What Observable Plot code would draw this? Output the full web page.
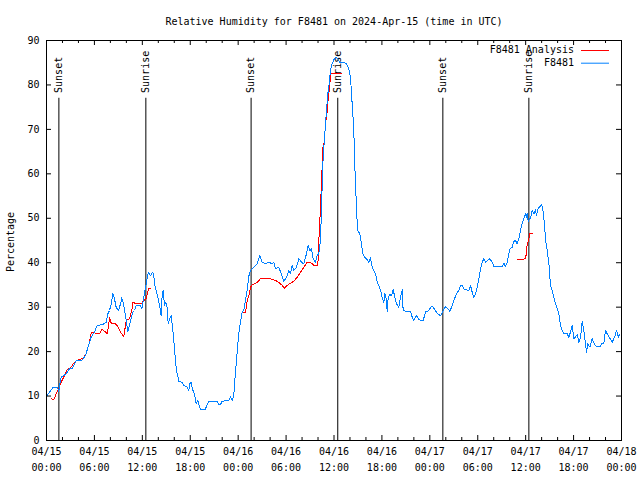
<!DOCTYPE html>
<html>
<head>
<meta charset="utf-8">
<script src="https://cdn.jsdelivr.net/npm/d3@7"></script>
<script src="https://cdn.jsdelivr.net/npm/@observablehq/plot@0.6"></script>
<style>
  html, body { margin: 0; padding: 0; background: #fff; }
  #chart svg { display: block; }
</style>
</head>
<body>
<div id="chart"></div>
<script>
// ---- Data (hours since 2024-04-15 00:00 UTC, relative humidity %) ----
const titleText = "Relative Humidity for F8481 on 2024-Apr-15 (time in UTC)";
const yLabel = "Percentage";

const blueName = "F8481";
const redName = "F8481 Analysis";

const blueSeries = [
[0.08,10.1],[0.38,10.9],[0.79,11.85],[1.42,11.85],[1.54,10.9],[1.71,13.1],[1.84,14.25],[2.13,14.6],[2.46,15.0],[2.88,16.1],
[3.17,16.1],[3.51,17.25],[3.72,18.0],[4.26,18.0],[4.55,18.2],[4.97,19.5],[5.18,21.0],[5.59,23.25],[6.01,24.4],[6.35,25.9],
[7.05,26.1],[7.47,26.6],[7.68,28.5],[7.89,29.25],[8.1,30.75],[8.31,33.0],[8.51,31.9],[8.72,30.0],[9.02,29.25],[9.27,30.75],
[9.43,32.1],[9.68,30.4],[9.98,27.0],[10.18,24.4],[10.39,25.9],[10.6,27.4],[10.81,28.9],[11.02,29.25],[11.23,30.4],[11.77,30.4],
[11.94,29.6],[12.19,32.25],[12.4,34.5],[12.6,36.4],[12.77,37.9],[13.02,37.1],[13.31,37.9],[13.44,37.1],[13.52,35.3],[13.77,33.4],
[13.94,32.3],[14.07,31.1],[14.27,29.2],[14.36,28.1],[14.48,32.6],[14.61,33.8],[14.78,30.4],[14.94,31.1],[15.11,30.0],[15.24,26.3],
[15.44,27.4],[15.61,28.1],[15.78,25.5],[15.94,22.5],[16.15,18.0],[16.28,15.75],[16.57,13.35],[16.99,13.1],[17.2,12.4],[17.61,12.0],
[17.82,11.25],[17.95,12.75],[18.11,13.1],[18.28,11.6],[18.57,10.1],[18.74,8.25],[18.95,9.0],[19.12,7.9],[19.28,6.9],[19.83,6.9],
[20.0,7.5],[20.33,8.85],[21.37,8.85],[21.58,8.1],[21.79,8.1],[22.0,8.85],[22.83,9.0],[23.04,9.9],[23.25,9.0],[23.45,10.1],
[23.58,13.5],[23.79,18.0],[23.96,21.75],[24.13,24.75],[24.29,26.6],[24.5,28.9],[24.71,29.4],[24.92,31.5],[25.13,33.8],[25.34,37.0],
[25.55,38.25],[25.97,39.0],[26.38,39.75],[26.71,41.6],[27.0,40.1],[27.42,39.75],[27.84,40.1],[28.26,39.75],[28.47,40.1],[28.67,38.6],
[29.09,39.0],[29.39,37.5],[29.72,35.85],[30.06,36.75],[30.35,38.25],[30.55,37.5],[30.76,39.4],[30.97,38.25],[31.3,39.0],[31.6,40.9],
[31.93,40.1],[32.22,39.75],[32.55,42.0],[32.77,43.9],[32.98,42.75],[33.18,43.1],[33.39,40.9],[33.68,40.1],[33.89,41.6],[34.1,42.0],
[34.31,45.0],[34.44,52.5],[34.6,62.25],[34.73,66.0],[34.94,71.25],[35.06,74.25],[35.23,78.0],[35.44,81.0],[35.56,83.5],[35.77,84.75],
[35.98,85.7],[36.19,86.25],[36.48,86.0],[36.73,85.1],[37.23,85.1],[37.56,84.75],[37.86,83.6],[38.07,81.75],[38.19,78.0],[38.36,73.5],
[38.48,69.75],[38.61,61.5],[38.73,56.25],[38.86,50.25],[38.99,47.25],[39.24,46.5],[39.44,44.25],[39.61,42.0],[39.82,41.25],[40.07,40.9],
[40.36,40.1],[40.57,41.1],[40.78,39.0],[40.99,38.25],[41.2,37.5],[41.41,35.6],[41.62,34.9],[41.83,33.75],[42.03,32.25],[42.24,31.1],
[42.37,33.0],[42.54,31.9],[42.66,29.1],[42.79,32.25],[43.0,32.8],[43.2,32.6],[43.41,33.9],[43.62,32.25],[43.83,30.75],[44.12,30.0],
[44.33,32.25],[44.54,33.9],[44.66,29.25],[44.96,29.1],[45.58,29.1],[45.79,27.75],[46.0,27.0],[46.33,28.1],[46.63,27.15],[47.17,27.0],
[47.46,28.9],[47.88,29.25],[48.17,30.15],[48.42,30.0],[48.71,29.1],[49.13,28.3],[49.34,28.1],[49.67,29.25],[49.96,30.1],[50.26,29.7],
[50.51,29.0],[50.8,30.4],[51.09,31.9],[51.34,33.0],[51.63,33.75],[51.84,34.9],[52.05,34.9],[52.26,34.1],[52.59,33.9],[52.88,33.75],
[53.09,34.9],[53.3,33.4],[53.51,32.25],[53.72,33.0],[53.93,34.5],[54.14,36.4],[54.35,38.6],[54.56,40.1],[54.76,40.9],[54.97,40.1],
[55.18,40.4],[55.52,40.9],[55.81,40.1],[56.02,39.15],[57.06,39.15],[57.27,39.9],[57.48,39.15],[57.69,40.1],[57.9,42.0],[58.02,43.1],
[58.32,43.5],[58.52,44.8],[58.73,45.0],[58.94,44.25],[59.15,45.4],[59.27,46.5],[59.44,48.0],[59.61,49.1],[59.77,49.9],[59.98,51.0],
[60.11,50.25],[60.19,51.1],[60.32,49.35],[60.53,49.9],[60.69,50.6],[60.82,51.75],[61.03,51.0],[61.23,51.9],[61.36,50.6],[61.53,52.1],
[61.78,52.65],[61.99,53.1],[62.15,51.9],[62.36,48.75],[62.49,45.0],[62.7,42.75],[62.91,39.75],[63.11,34.9],[63.32,33.75],[63.53,32.25],
[63.74,30.75],[63.95,29.6],[64.16,28.5],[64.36,25.9],[64.57,24.75],[64.78,24.15],[65.2,24.0],[65.41,23.25],[65.61,24.4],[65.82,25.9],
[66.03,22.9],[66.24,23.25],[66.45,23.85],[66.66,22.1],[66.87,23.25],[67.08,26.85],[67.29,24.75],[67.49,21.75],[67.62,19.9],[67.79,21.75],
[68.04,21.0],[68.33,22.9],[68.62,21.6],[68.87,21.2],[69.37,21.2],[69.58,21.9],[69.79,21.9],[70.0,24.75],[70.21,24.0],[70.42,23.4],
[70.83,22.1],[71.13,23.25],[71.38,24.75],[71.59,23.25],[71.8,24.0]
];

const redSegment1 = [
[0.67,9.37],[0.92,9.15],[1.21,10.5],[1.42,11.25],[1.63,12.1],[1.84,13.1],[2.25,14.6],[2.59,15.9],[3.01,16.35],[3.3,17.1],
[3.72,18.0],[4.55,18.5],[4.97,19.5],[5.38,22.1],[5.59,24.2],[6.01,24.2],[6.64,24.0],[6.93,25.1],[7.26,24.6],[7.6,24.0],
[7.8,26.25],[7.89,27.75],[8.1,26.4],[8.51,26.4],[8.93,25.7],[9.27,24.4],[9.68,23.4],[9.98,27.0],[10.39,27.4],[10.69,29.25],
[10.81,31.1],[11.23,30.75],[11.85,30.75],[12.19,31.5],[12.48,31.9],[12.77,34.1],[13.02,34.1]
];
const redSegment2 = [
[24.5,28.9],[24.92,28.9],[25.13,31.5],[25.34,32.6],[25.55,34.5],[25.76,35.0],[26.38,35.6],[26.8,36.4],[28.05,36.4],[28.67,36.0],
[29.09,35.6],[29.51,34.9],[29.8,34.3],[30.14,34.9],[30.55,35.4],[30.97,35.85],[31.39,36.75],[31.81,37.9],[32.22,39.0],[32.64,40.1],
[33.06,40.1],[33.48,39.4],[33.98,39.4],[34.1,45.0],[34.31,52.5],[34.44,58.5],[34.64,66.75],[34.81,67.1],[34.94,72.0],[35.06,72.4],
[35.23,76.1],[35.4,78.75],[35.6,82.5],[37.0,82.5]
];
const redSegment3 = [
[58.98,40.65],[60.02,40.9],[60.11,43.5],[60.36,45.0],[60.53,46.65],[60.9,46.65]
];

const sunTimes = [1.55, 12.44, 25.62, 36.47, 49.63, 60.4];
const sunLabels = ["Sunset", "Sunrise", "Sunset", "Sunrise", "Sunset", "Sunrise"];
const sunLineTop = 77;

const yTicks = [0, 10, 20, 30, 40, 50, 60, 70, 80, 90];
const xMajorTicks = [0, 6, 12, 18, 24, 30, 36, 42, 48, 54, 60, 66, 72];
const xMinorTicks = [2, 4, 8, 10, 14, 16, 20, 22, 26, 28, 32, 34, 38, 40, 44, 46, 50, 52, 56, 58, 62, 64, 68, 70];
const xDateLabels = ["04/15","04/15","04/15","04/15","04/16","04/16","04/16","04/16","04/17","04/17","04/17","04/17","04/18"];
const xTimeLabels = ["00:00","06:00","12:00","18:00","00:00","06:00","12:00","18:00","00:00","06:00","12:00","18:00","00:00"];

const redColor = "#ff0000";
const blueColor = "#0080ff";
const legendItems = [{label: redName, color: redColor}, {label: blueName, color: blueColor}];

// ---- Chart ----
const W = 640, H = 480;
const mL = 46, mR = 19, mT = 40, mB = 40;
const innerW = W - mL - mR, innerH = H - mT - mB;
const toObj = (arr) => arr.map(([h, v]) => ({h, v}));

const legendMark = (index, scales, values, dims) => {
  const g = d3.create("svg:g")
    .attr("font-family", "DejaVu Sans Mono")
    .attr("font-size", 10);
  const xr = dims.width - dims.marginRight;
  legendItems.forEach((d, i) => {
    const y = dims.marginTop + 10 + i * 12.7;
    g.append("text").attr("x", xr - 47).attr("y", y).attr("dy", "0.32em")
      .attr("text-anchor", "end").attr("fill", "black").text(d.label);
    g.append("line").attr("x1", xr - 40).attr("x2", xr - 12)
      .attr("y1", y + 0.5).attr("y2", y + 0.5).attr("stroke", d.color).attr("stroke-width", 1);
  });
  return g.node();
};

const yLabelMark = (index, scales, values, dims) => {
  const cy = dims.marginTop + (dims.height - dims.marginTop - dims.marginBottom) / 2 + 2;
  const t = d3.create("svg:text")
    .attr("font-family", "DejaVu Sans Mono")
    .attr("font-size", 10)
    .attr("fill", "black")
    .attr("text-anchor", "middle")
    .attr("dy", "0.32em")
    .attr("transform", `translate(${dims.marginLeft - 35},${cy}) rotate(-90)`)
    .text(yLabel);
  return t.node();
};

const lineOpts = {x: "h", y: "v", strokeWidth: 1, shapeRendering: "crispEdges"};

const chart = Plot.plot({
  width: W, height: H,
  marginLeft: mL, marginRight: mR, marginTop: mT, marginBottom: mB,
  x: {domain: [0, 72], axis: null},
  y: {domain: [0, 90], axis: null},
  style: {fontFamily: "DejaVu Sans Mono", fontSize: "10px", background: "white", color: "black"},
  marks: [
    // sunrise / sunset markers
    Plot.ruleX(sunTimes, {x: d => d, y1: 0, y2: sunLineTop, stroke: "black", strokeWidth: 1}),
    Plot.text(sunTimes, {x: d => d, y: 78.2, text: (d, i) => sunLabels[i], rotate: -90,
      textAnchor: "start", lineAnchor: "middle", fill: "black"}),
    // data
    Plot.line(toObj(redSegment1), {...lineOpts, stroke: redColor}),
    Plot.line(toObj(redSegment2), {...lineOpts, stroke: redColor}),
    Plot.line(toObj(redSegment3), {...lineOpts, stroke: redColor}),
    Plot.line(toObj(blueSeries), {...lineOpts, stroke: blueColor}),
    // frame and inward ticks
    Plot.frame({stroke: "black"}),
    Plot.tickY(yTicks, {y: d => d, stroke: "black", insetRight: innerW - 5}),
    Plot.tickY(yTicks, {y: d => d, stroke: "black", insetLeft: innerW - 5}),
    Plot.tickX(xMajorTicks, {x: d => d, stroke: "black", insetTop: innerH - 5}),
    Plot.tickX(xMajorTicks, {x: d => d, stroke: "black", insetBottom: innerH - 5}),
    Plot.tickX(xMinorTicks, {x: d => d, stroke: "black", insetTop: innerH - 3}),
    Plot.tickX(xMinorTicks, {x: d => d, stroke: "black", insetBottom: innerH - 3}),
    // tick labels
    Plot.text(yTicks, {y: d => d, frameAnchor: "left", dx: -7, textAnchor: "end", text: d => String(d), fill: "black"}),
    Plot.text(xMajorTicks, {x: d => d, frameAnchor: "bottom", dy: 14.5, text: (d, i) => xDateLabels[i], fill: "black"}),
    Plot.text(xMajorTicks, {x: d => d, frameAnchor: "bottom", dy: 30, text: (d, i) => xTimeLabels[i], fill: "black"}),
    // titles
    Plot.text([titleText], {frameAnchor: "top", dy: -22.5, text: d => d, fill: "black"}),
    yLabelMark,
    legendMark
  ]
});

document.getElementById("chart").appendChild(chart);
</script>
</body>
</html>
